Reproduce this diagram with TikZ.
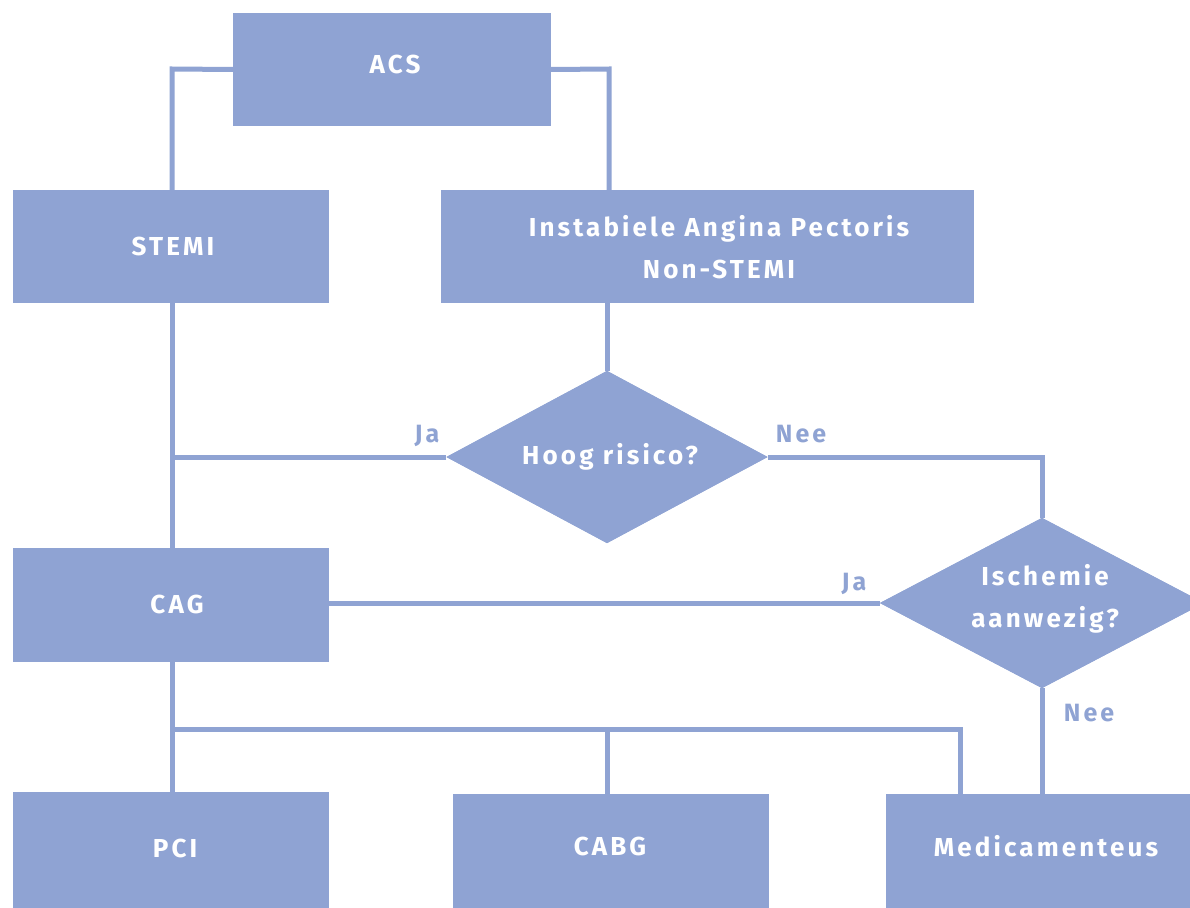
\documentclass[tikz,border=0pt]{standalone}
\usepackage{fontspec}
\setmainfont{Fira Sans}
\newfontfamily\boxfont[LetterSpace=12]{Fira Sans}
\usetikzlibrary{shapes.geometric}
\definecolor{acsblue}{HTML}{8FA3D3}
\tikzset{
  box/.style={fill=acsblue, inner sep=0pt, text=white, font=\boxfont\bfseries\fontsize{26}{42}\selectfont, align=center},
  dec/.style={diamond, fill=acsblue, inner sep=0pt},
  conn/.style={draw=acsblue, line width=5pt},
  lbl/.style={text=acsblue, font=\boxfont\bfseries\fontsize{25}{28}\selectfont, inner sep=0pt}
}
\begin{document}
\begin{tikzpicture}[x=1pt,y=-1pt]
\useasboundingbox (0,0) rectangle (1190,907);
\begin{scope}
\clip (0,0) rectangle (1190,907);
\coordinate (c1) at (172,69);
\coordinate (c2) at (609,69);
\coordinate (c3) at (172,457);
\coordinate (c4) at (1042,457);
\coordinate (c5) at (172,729);
\coordinate (c6) at (607,729);
\coordinate (c7) at (960,729);

\node[box, minimum width=318pt, minimum height=113pt] (acs) at (392,69.5) {};
\node[box, minimum width=316pt, minimum height=113pt] (stemi) at (171,246.5) {};
\node[box, minimum width=533pt, minimum height=113pt] (uap) at (707.5,246.5) {};
\node[dec, minimum width=321pt, minimum height=172pt] (hoog) at (607,457) {};
\node[dec, minimum width=324pt, minimum height=170pt] (isch) at (1042,603) {};
\node[box, minimum width=316pt, minimum height=114pt] (cag) at (171,605) {};
\node[box, minimum width=316pt, minimum height=130pt] (pci) at (171,857) {};
\node[box, minimum width=316pt, minimum height=130pt] (cabg) at (611,859) {};
\node[box, minimum width=316pt, minimum height=130pt] (med) at (1044,859) {};

\draw[conn] (acs.west) -- (c1) -- (stemi.north -| c1);
\draw[conn] (acs.east) -- (c2) -- (uap.north -| c2);
\draw[conn] (uap.south -| hoog.north) -- (hoog.north);
\draw[conn] (stemi.south -| c3) -- (cag.north -| c3);
\draw[conn] (hoog.west) -- (c3);
\draw[conn] (hoog.east) -- (c4) -- (isch.north);
\draw[conn] (isch.west) -- (isch.west -| cag.east);
\draw[conn] (isch.south) -- (med.north -| isch.south);
\draw[conn] (cag.south -| c5) -- (pci.north -| c5);
\draw[conn] (c5) -- (c7) -- (med.north -| c7);
\draw[conn] (c6) -- (cabg.north -| c6);

\fill[acsblue] (acs.north west) rectangle (acs.south east);
\fill[acsblue] (stemi.north west) rectangle (stemi.south east);
\fill[acsblue] (uap.north west) rectangle (uap.south east);
\fill[acsblue] (hoog.north) -- (hoog.east) -- (hoog.south) -- (hoog.west) -- cycle;
\fill[acsblue] (isch.north) -- (isch.east) -- (isch.south) -- (isch.west) -- cycle;
\fill[acsblue] (cag.north west) rectangle (cag.south east);
\fill[acsblue] (pci.north west) rectangle (pci.south east);
\fill[acsblue] (cabg.north west) rectangle (cabg.south east);
\fill[acsblue] (med.north west) rectangle (med.south east);
\end{scope}

\node[box, fill=none] (tacs) at (395,64) {ACS};
\node[box, fill=none] (tstemi) at (173,246) {STEMI};
\node[box, fill=none] (tuap) at (719,247) {Instabiele Angina Pectoris\\Non-STEMI};
\node[box, fill=none] (thoog) at (610,457) {Hoog risico?};
\node[box, fill=none] (tisch) at (1045,599) {Ischemie\\aanwezig?};
\node[box, fill=none] (tcag) at (177,604) {CAG};
\node[box, fill=none] (tpci) at (175,848) {PCI};
\node[box, fill=none] (tcabg) at (610,846) {CABG};
\node[box, fill=none] (tmed) at (1046,846) {Medicamenteus};

\node[lbl] (ja1) at (427,436) {Ja};
\node[lbl] (nee1) at (801,434) {Nee};
\node[lbl] (ja2) at (854,584) {Ja};
\node[lbl] (nee2) at (1089,713) {Nee};
\end{tikzpicture}
\end{document}
